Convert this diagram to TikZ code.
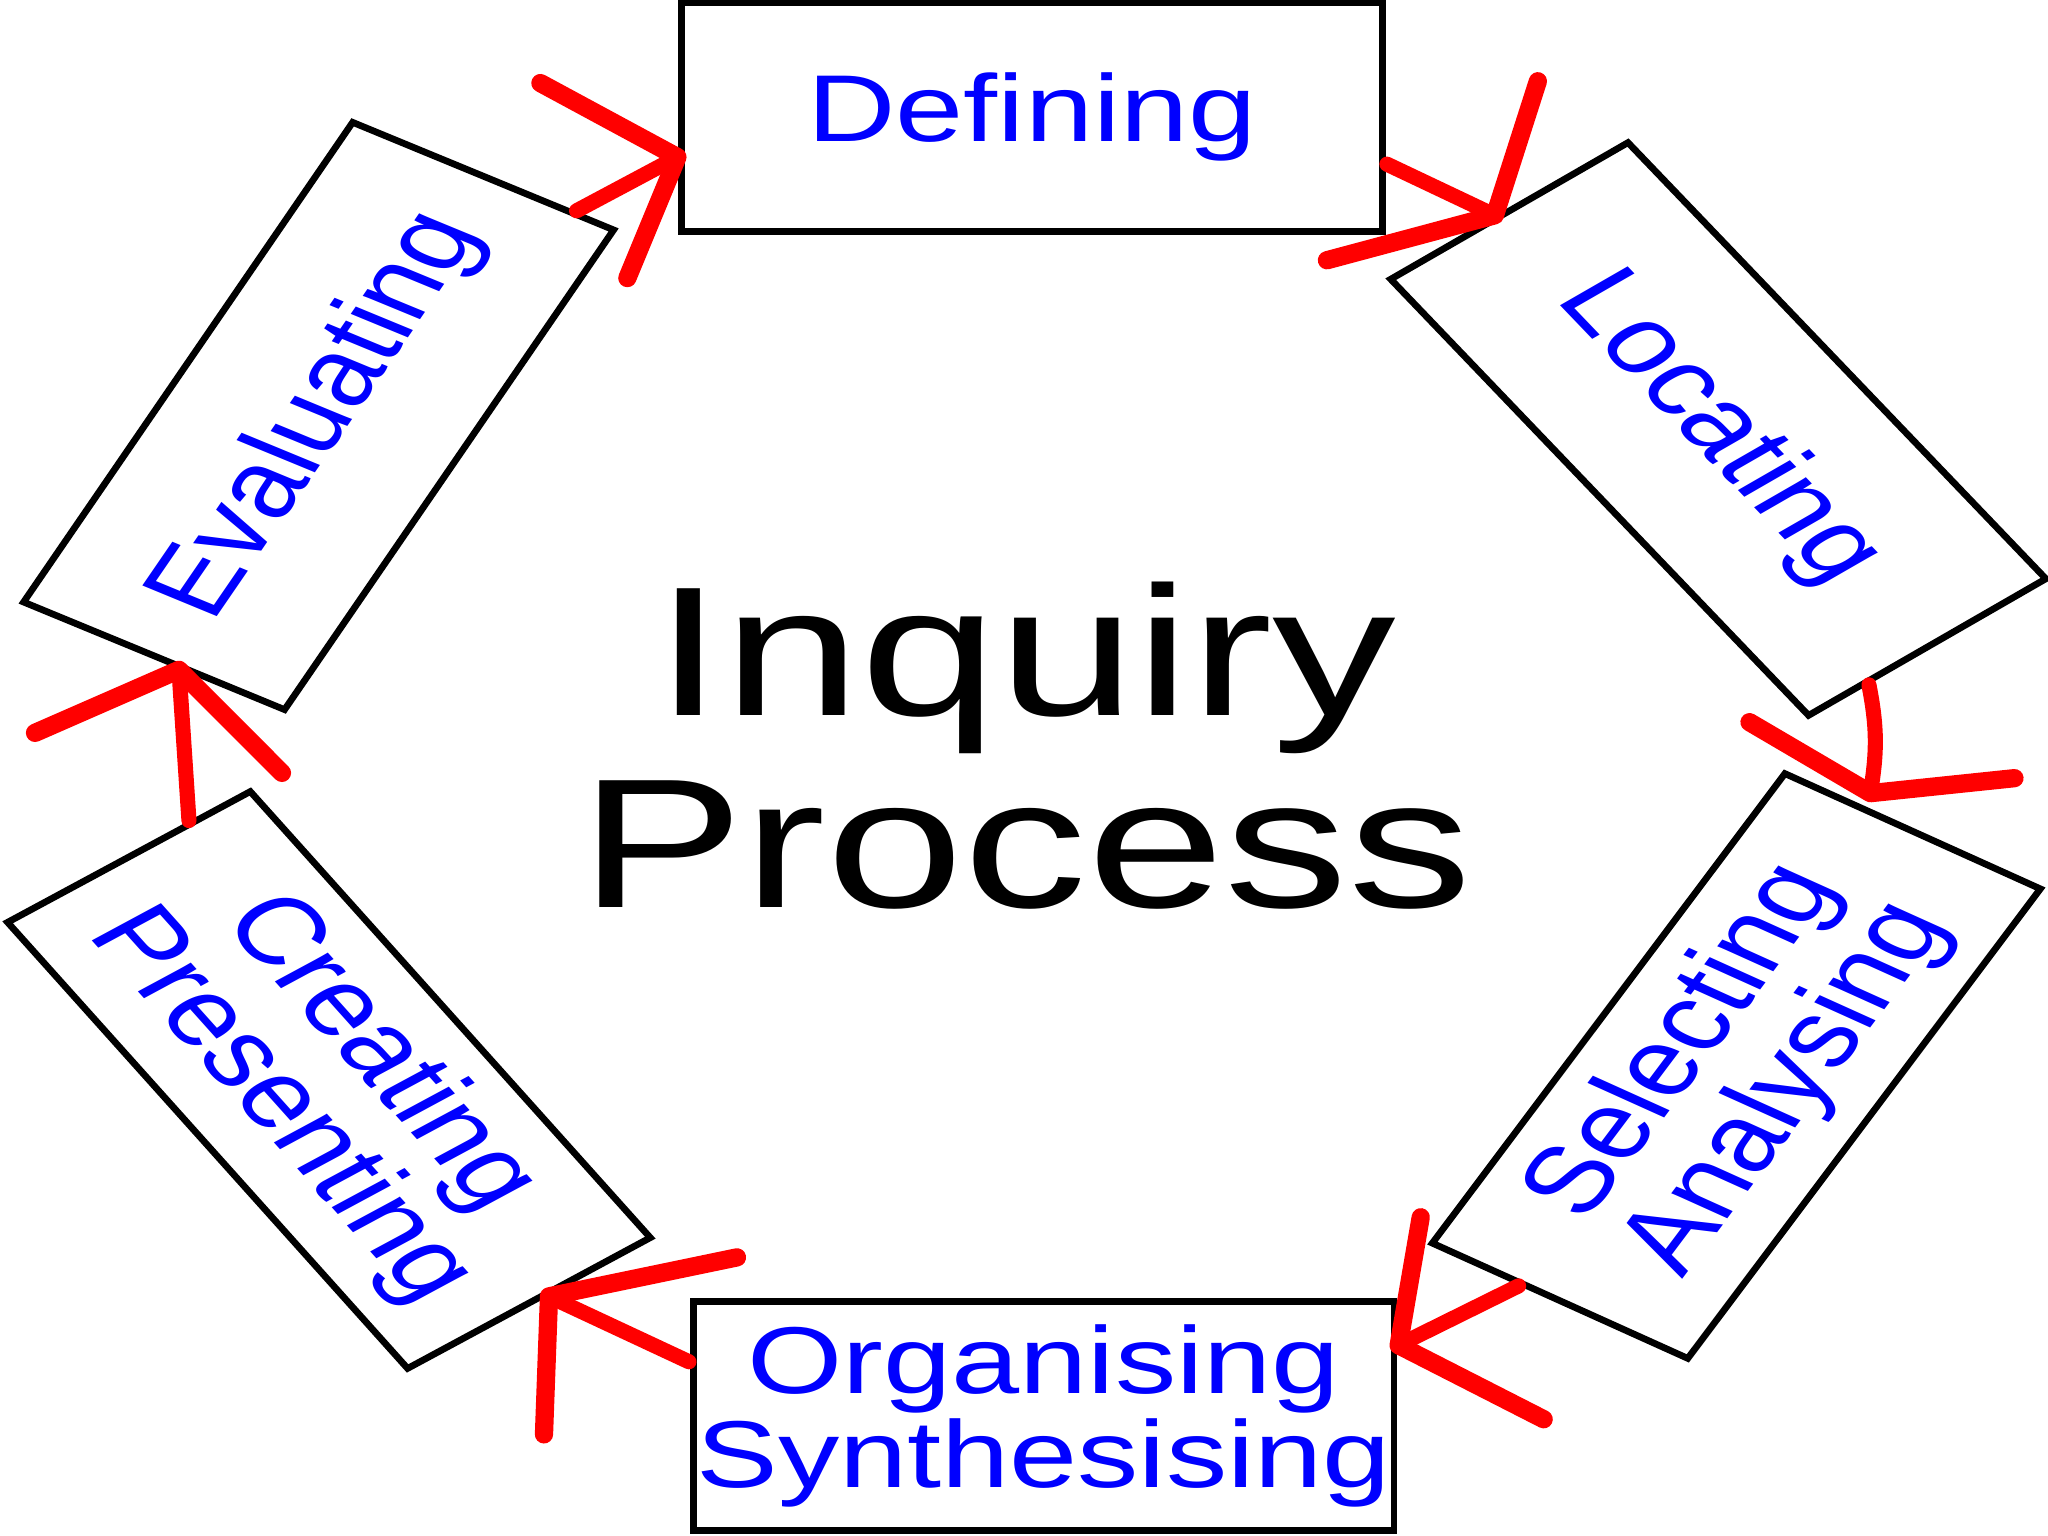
\documentclass[tikz,border=0pt]{standalone}
\usepackage{graphicx}
\usepackage{fontspec}
\setmainfont{Liberation Sans}
\usetikzlibrary{calc}
\definecolor{boxblue}{RGB}{0,0,255}
\definecolor{arrred}{RGB}{255,0,0}
\begin{document}
\begin{tikzpicture}[x=0.01cm,y=0.01cm,xscale=1.29,transform shape,
  stage/.style={draw=black, line width=1.9pt, fill=white,
    minimum width=5.43cm, minimum height=2.29cm, inner sep=0pt,
    text=boxblue, align=center, font=\fontsize{27}{26.5}\selectfont},
  shaft/.style={draw=arrred, line width=4.3pt, line cap=round},
  barb/.style={draw=arrred, line width=5.2pt, line cap=round, line join=round},
  title/.style={align=center, font=\fontsize{52.4}{54.6}\selectfont,
    text=black, inner sep=0pt}]
\useasboundingbox (0,0) rectangle (1587.6,1536);
\fill[white] (0,0) rectangle (1587.6,1536);

\node[stage] (def) at (800,1419) {Defining};
\node[stage, rotate=-53.4] (loc) at (1332,1107) {Locating};
\node[stage, rotate=59.8] (sel) at (1346,470) {Selecting\\Analysing};
\node[stage] (org) at (809,120) {Organising\\Synthesising};
\node[stage, rotate=-55.2] (cre) at (255,456) {Creating\\Presenting};
\node[stage, rotate=62] (eva) at (247,1120) {Evaluating};
\node[title] (inq) at (795,790) {\scalebox{1.04}[1]{Inquiry}\\\scalebox{1.04}[1]{Process}};

% Evaluating -> Defining
\draw[shaft] ($(eva.north east)!0.84!(eva.south east)$) -- ($(def.north west)!0.67!(def.south west)$) coordinate (t1);
\draw[barb] (t1) ++(-106.2,74) -- (t1) -- ++(-38.8,-121);
% Defining -> Locating
\draw[shaft] ($(def.north east)!0.70!(def.south east)$) -- ($(loc.south west)!0.45!(loc.north west)$) coordinate (t2);
\draw[barb] (t2) ++(33.3,134) -- (t2) -- ++(-130.2,-45);
% Locating -> Selecting
\draw[shaft] ($(loc.south east)!0.25!(loc.north east)$) to[bend left=8] ($(sel.north east)!0.33!(sel.south east)+(0,15)$) coordinate (t3);
\draw[barb] (t3) ++(-93.8,71) -- (t3) -- ++(111.6,15);
% Selecting -> Organising
\draw[shaft] ($(sel.north west)!0.35!(sel.south west)$) -- ($(org.north east)!0.2!(org.south east)$) coordinate (t4);
\draw[barb] (t4) ++(17.1,128) -- (t4) -- ++(112.4,-74);
% Organising -> Creating
\draw[shaft] ($(org.north west)!0.27!(org.south west)$) -- ($(cre.south east)!0.57!(cre.north east)$) coordinate (t5);
\draw[barb] (t5) ++(145.7,39) -- (t5) -- ++(-3.9,-138);
% Creating -> Evaluating
\draw[shaft] ($(cre.south west)!0.75!(cre.north west)$) -- ($(eva.north west)!0.6!(eva.south west)$) coordinate (t6);
\draw[barb] (t6) ++(-111.6,-63) -- (t6) -- ++(79.8,-103);
\end{tikzpicture}
\end{document}
